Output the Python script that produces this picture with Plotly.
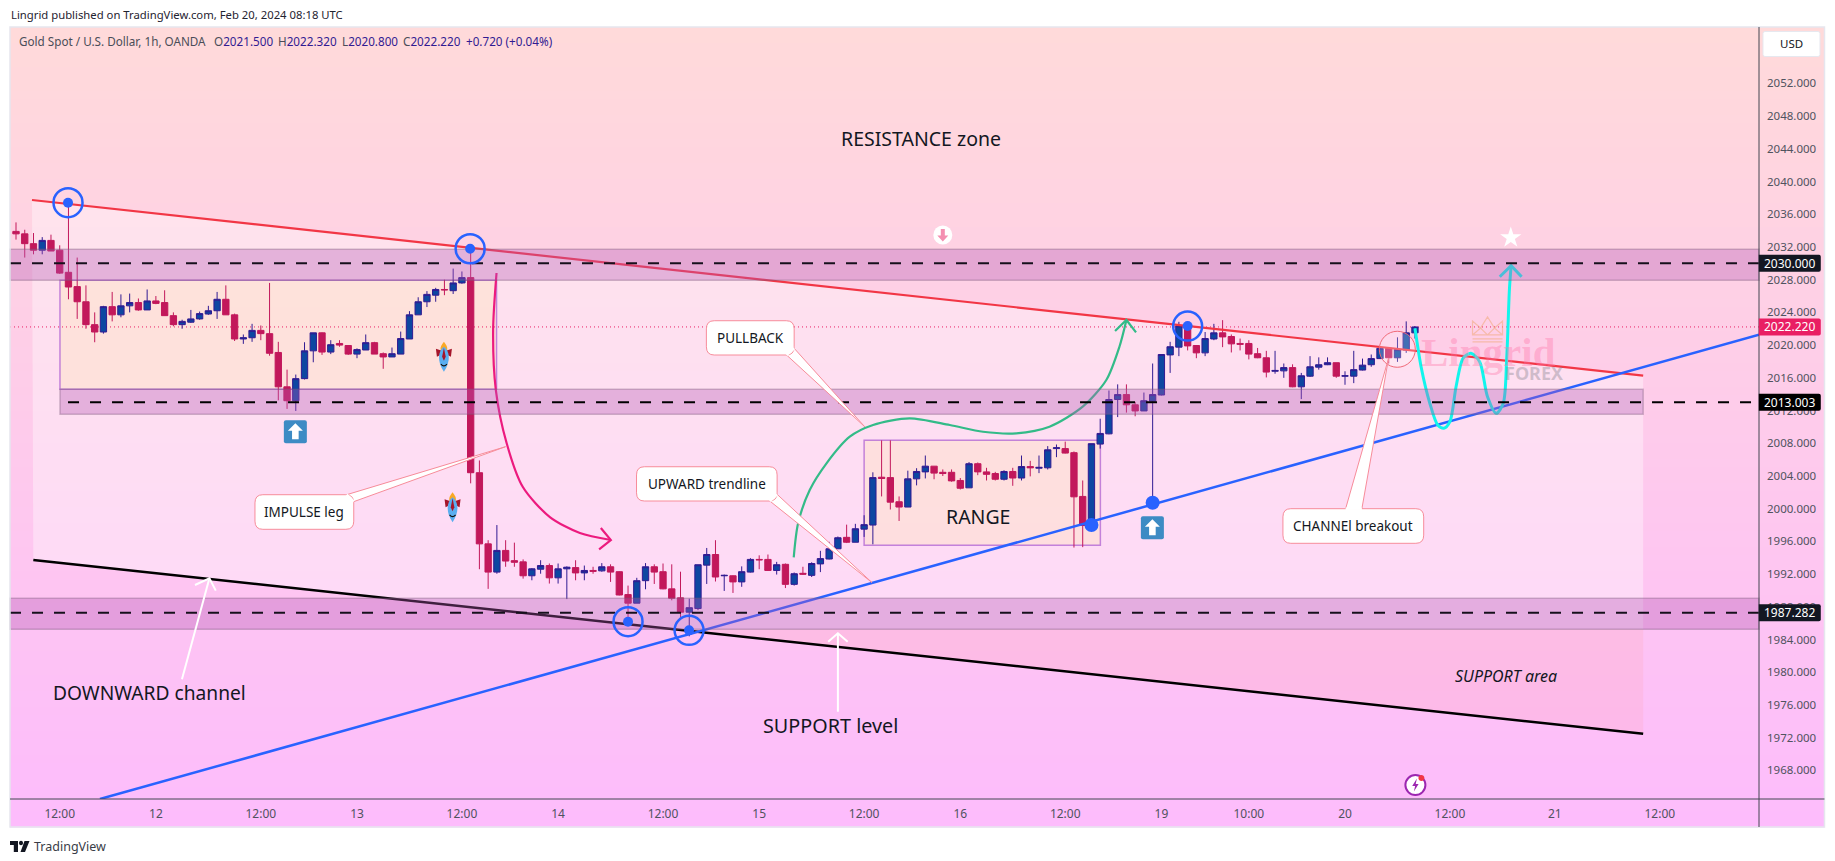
import plotly.graph_objects as go

# ---------- candles: hourly bars (bar number = position on a session-compressed time axis)
opens = [2033.9,2033.6,2032.4,2031.6,2032.8,2031.6,2028.9,2027.15,2025.3,2022.5,
 2021.6,2024.7,2023.7,2024.8,2025.2,2024.3,2025.4,2025.2,2023.6,2022.5,
 2022.8,2023.2,2023.8,2024.2,2025.6,2023.7,2020.75,2020.9,2021.8,2021.4,
 2019.1,2014.9,2013.2,2015.9,2019.3,2021.5,2019.15,2020.2,2019.95,2018.9,
 2019.4,2020.3,2018.95,2018.55,2018.9,2020.75,2023.7,2025.3,2026.1,2026.8,
 2026.65,2027.6,2028.25,2004.4,1995.7,1992.25,1994.9,1993.65,1993.5,1991.8,
 1992.6,1993.05,1991.55,1992.65,1992.8,1992.15,1992.45,1992.4,1992.9,1992.3,
 1989.5,1988.45,1991.2,1992.9,1992.3,1990.2,1989.1,1987.35,1987.8,1993.1,
 1994.4,1991.8,1991.8,1991.05,1992.25,1993.8,1993.8,1992.45,1993.2,1990.75,
 1992.1,1991.85,1993.25,1993.85,1995.1,1996.5,1995.9,1997.5,1998.0,2003.85,
 2003.8,2000.85,2000.2,2003.65,2004.5,2005.2,2004.45,2004.45,2003.45,2002.55,
 2005.5,2004.5,2004.3,2003.6,2004.55,2003.75,2005.15,2004.95,2005.0,2007.35,
 2007.35,2006.85,2001.5,1997.95,2007.9,2009.15,2013.35,2013.95,2012.7,2011.95,
 2013.15,2013.9,2018.8,2019.75,2022.2,2019.95,2019.05,2020.75,2021.5,2021.05,
 2020.2,2020.2,2018.95,2018.45,2016.8,2016.85,2017.25,2014.9,2016.2,2017.3,
 2017.6,2017.85,2016.2,2016.2,2016.95,2017.6,2018.35,2019.6,2018.45,2019.4,2021.5]
highs = [2035.0,2034.1,2033.7,2033.2,2033.5,2032.2,2037.4,2030.7,2027.3,2024.0,
 2024.8,2026.5,2026.2,2026.3,2025.7,2026.8,2026.0,2026.7,2024.0,2023.1,
 2024.3,2024.1,2024.8,2026.5,2027.3,2023.85,2021.3,2022.6,2022.4,2027.6,
 2020.4,2017.0,2016.4,2020.35,2021.5,2021.55,2020.6,2020.6,2019.95,2019.6,
 2021.3,2020.4,2019.1,2019.7,2021.65,2024.15,2025.85,2026.6,2027.0,2028.0,
 2029.35,2029.0,2031.7,2005.9,1996.15,1998.0,1996.15,1995.85,1993.8,1992.75,
 1993.7,1993.3,1993.3,1992.95,1993.7,1993.05,1992.9,1993.35,1993.2,1992.35,
 1990.6,1991.55,1993.35,1993.2,1993.3,1993.2,1992.3,1989.0,1993.15,1995.2,
 1996.15,1991.95,1991.85,1992.95,1993.95,1994.3,1994.4,1993.5,1993.3,1992.2,
 1992.9,1993.45,1994.85,1995.95,1996.6,1998.05,1998.15,1999.2,2004.45,2008.35,
 2008.35,2001.5,2004.65,2004.95,2006.5,2005.2,2004.8,2004.8,2003.75,2005.7,
 2005.65,2005.0,2004.5,2004.7,2005.0,2006.5,2005.85,2006.5,2007.65,2007.85,
 2008.2,2007.0,2003.45,2007.95,2011.0,2014.45,2015.2,2015.2,2013.05,2014.2,
 2017.75,2018.85,2020.4,2022.85,2022.85,2020.0,2021.6,2022.6,2023.05,2021.3,
 2020.8,2020.6,2019.65,2019.3,2019.3,2017.75,2017.65,2016.6,2018.65,2018.5,
 2018.5,2017.85,2016.8,2019.3,2018.35,2018.85,2019.85,2019.6,2020.95,2022.9,2022.32]
lows = [2032.9,2030.7,2031.1,2031.1,2031.5,2028.7,2025.6,2023.2,2022.0,2020.35,
 2021.4,2022.9,2023.4,2024.0,2024.2,2024.3,2025.0,2023.6,2022.3,2022.0,
 2022.7,2023.1,2023.7,2023.2,2023.7,2020.5,2020.15,2020.4,2020.6,2018.7,
 2013.25,2012.2,2011.95,2015.8,2017.9,2018.8,2018.9,2019.8,2018.8,2018.4,
 2019.4,2018.9,2017.1,2018.55,2018.9,2020.75,2023.7,2024.65,2025.3,2026.1,
 2026.25,2027.5,2003.1,1992.6,1990.2,1992.05,1992.9,1992.9,1991.45,1991.25,
 1992.05,1990.85,1990.85,1988.95,1991.25,1991.25,1992.05,1992.3,1991.05,1989.4,
 1986.15,1988.45,1990.15,1990.8,1990.15,1988.8,1986.75,1984.4,1987.6,1990.8,
 1991.1,1989.95,1989.7,1990.45,1992.2,1992.6,1992.4,1991.95,1990.3,1990.6,
 1991.9,1991.65,1992.25,1993.8,1995.1,1995.8,1995.9,1996.55,1995.65,2001.5,
 1999.9,1998.5,2000.2,2002.85,2003.7,2003.6,2004.0,2003.3,2002.35,2002.55,
 2004.1,2003.45,2003.45,2003.45,2002.8,2003.45,2003.95,2004.35,2004.8,2006.3,
 2006.75,1995.25,1995.3,1997.95,2007.35,2009.1,2011.2,2011.75,2011.3,2011.95,
 2001.45,2013.85,2016.6,2018.65,2019.35,2018.4,2018.65,2020.6,2019.75,2019.1,
 2019.35,2018.25,2018.4,2016.05,2016.5,2016.0,2014.85,2013.4,2016.1,2017.0,
 2017.55,2016.0,2015.15,2015.35,2016.9,2017.35,2018.35,2017.75,2017.95,2019.05,2020.8]
closes = [2033.6,2032.4,2031.6,2032.8,2031.5,2028.8,2027.1,2025.3,2022.5,2021.6,
 2024.7,2023.7,2024.8,2025.2,2024.3,2025.4,2025.1,2023.6,2022.5,2022.9,
 2023.2,2023.85,2024.2,2025.6,2023.7,2020.75,2020.9,2021.8,2021.4,2019.0,
 2014.9,2013.2,2015.9,2019.3,2021.5,2019.15,2020.05,2020.0,2018.9,2019.45,
 2020.3,2018.9,2018.55,2018.95,2020.8,2023.7,2025.3,2026.2,2026.8,2026.75,
 2027.6,2028.25,2004.4,1995.7,1992.25,1994.9,1993.6,1993.45,1991.8,1992.65,
 1993.05,1991.55,1992.65,1992.85,1992.15,1992.45,1992.35,1992.9,1992.25,1989.45,
 1988.45,1991.2,1992.9,1992.25,1990.2,1989.05,1987.35,1987.9,1993.15,1994.4,
 1991.65,1991.85,1991.05,1992.3,1993.8,1993.75,1992.45,1993.15,1990.75,1992.05,
 1992.0,1993.3,1993.9,1995.1,1996.45,1995.9,1997.55,1998.05,2003.8,2003.7,
 2000.8,2000.2,2003.65,2004.55,2005.2,2004.35,2004.3,2003.4,2002.5,2005.5,
 2004.5,2004.2,2003.6,2004.55,2003.75,2005.15,2005.0,2005.05,2007.2,2007.45,
 2006.8,2001.45,1997.95,2007.95,2009.2,2013.35,2013.95,2012.7,2011.95,2013.2,
 2013.95,2018.85,2019.8,2022.35,2019.9,2019.05,2020.8,2021.5,2021.0,2020.15,
 2020.1,2018.9,2018.45,2016.7,2016.9,2017.25,2014.9,2016.25,2017.35,2017.6,
 2017.85,2016.2,2016.25,2017.0,2017.55,2018.35,2019.6,2018.45,2019.45,2021.5,2022.22]
bars = list(range(len(opens)))

# ---------- axes
price_ticks = [1968,1972,1976,1980,1984,1988,1992,1996,2000,2004,2008,2012,2016,2020,2024,2028,2032,2036,2040,2044,2048,2052]
price_labels = [f"{v}.000" for v in price_ticks]
time_tick_bars = [5,16,28,39,51,62,74,85,97,108,120,131,141,152,164,176,188]
time_tick_labels = ["12:00","12","12:00","13","12:00","14","12:00","15","12:00","16","12:00","19","10:00","20","12:00","21","12:00"]

# ---------- drawn levels and trend lines (bar number, price)
level_prices = [2030.0, 2013.003, 1987.282]
last_price = 2022.22
red_bars, red_prices = [1.83, 186.1], [2037.74, 2016.26]
black_bars, black_prices = [1.98, 186.1], [1993.73, 1972.48]
blue_bars, blue_prices = [9.6, 199.35], [1964.51, 2021.26]

green_bars = [88.95,89.45,90.78,92.7,95.36,98.02,102.2,106.8,110.6,114.4,118.2,122.0,124.7,126.2,127.0]
green_prices = [1994.06,1998.22,2002.29,2005.55,2008.8,2010.23,2011.05,2010.23,2009.41,2009.22,2010.02,2012.47,2015.73,2019.8,2023.07]
green_head_bars, green_head_prices = [125.7,127.0,128.1], [2021.72,2023.07,2021.56]
pink_bars = [54.96,54.57,54.88,56.11,57.97,61.06,64.49,68.03]
pink_prices = [2028.81,2021.85,2014.51,2008.03,2002.65,1998.98,1997.03,1996.17]
pink_head_bars, pink_head_prices = [66.89,68.03,66.69], [1997.64,1996.17,1995.04]
cyan_bars = [160.0,160.7,161.7,162.6,163.3,164.0,164.7,165.5,166.4,167.4,168.3,169.3,170.1,170.5,170.8,171.0]
cyan_prices = [2022.05,2017.36,2012.89,2010.23,2009.83,2010.64,2014.91,2018.39,2019.0,2017.97,2013.69,2011.66,2012.89,2018.58,2026.74,2029.71]
cyan_head_bars, cyan_head_prices = [169.7,171.0,172.2], [2028.36,2029.71,2028.36]

ring_bars, ring_prices = [5.95,51.94,70.0,76.98,134.0], [2037.41,2031.78,1986.19,1985.13,2022.33]
dot_bars, dot_prices = [123.0,130.0], [1998.01,2000.73]
up_icon_bars, up_icon_prices = [31.95,129.97], [2009.41,1997.68]
rocket_bars, rocket_prices = [48.94,49.93], [2018.58,2000.17]

# ---------- page layout in pixels
W, H = 1835, 861
L, R, T, B = 10, 1759.5, 27, 799
XR = [(L-16)/8.746, (R-16)/8.746]
YR = [2030-(B-263.3)/8.18, 2030+(263.3-T)/8.18]
def PX(x): return (x-L)/(R-L)
def PY(y): return (B-y)/(B-T)

FONT = "Noto Sans"
NOLINE = dict(width=0)
shapes, ann = [], []

# gradient backdrop of the chart box
c0, c1 = (255,218,218), (253,188,252)
top, bot, n = 27, 827, 100
for k in range(n):
    t = k/(n-1)
    col = "rgb(%d,%d,%d)" % tuple(round(a+(b-a)*t) for a,b in zip(c0,c1))
    y0 = top+(bot-top)*k/n
    y1 = top+(bot-top)*(k+1)/n+0.6
    shapes.append(dict(type="rect", xref="paper", yref="paper", x0=PX(10), x1=PX(1825), y0=PY(y0), y1=PY(y1),
                       line=NOLINE, fillcolor=col, layer="below"))

def poly(xs, ys, **kw):
    p = "M " + " L ".join(f"{x} {y}" for x,y in zip(xs,ys)) + " Z"
    d = dict(type="path", xref="x", yref="y", path=p, layer="above", line=NOLINE)
    d.update(kw)
    return d

def pxpath(path, xa, ya, xref="x", yref="y", **kw):
    d = dict(type="path", path=path, xsizemode="pixel", ysizemode="pixel", xanchor=xa, yanchor=ya,
             xref=xref, yref=yref, layer="above", line=NOLINE)
    d.update(kw)
    return d

def pxcircle(xa, ya, r, **kw):
    d = dict(type="circle", xsizemode="pixel", ysizemode="pixel", xanchor=xa, yanchor=ya,
             x0=-r, x1=r, y0=-r, y1=r, xref="x", yref="y", layer="above", line=NOLINE)
    d.update(kw)
    return d

def rounded(x0,x1,y0,y1,rx=0.9,ry=1.0):
    return (f"M {x0+rx} {y1} L {x1-rx} {y1} Q {x1} {y1} {x1} {y1-ry} L {x1} {y0+ry} Q {x1} {y0} {x1-rx} {y0} "
            f"L {x0+rx} {y0} Q {x0} {y0} {x0} {y0+ry} L {x0} {y1-ry} Q {x0} {y1} {x0+rx} {y1} Z")

# channel tint (between red and black lines) and support wedge
shapes.append(poly([1.83,186.1,186.1,75.42,1.98],[2037.74,2016.26,1985.26,1985.26,1993.73],
                   fillcolor="rgba(255,255,255,0.37)", layer="below"))
shapes.append(poly([75.42,186.1,186.1],[1985.26,1985.26,1972.48], fillcolor="rgba(255,150,150,0.15)", layer="below"))

# range boxes
BOXLINE = dict(color="rgba(170,90,210,0.7)", width=1.5)
shapes.append(dict(type="rect", xref="x", yref="y", x0=5.03, x1=54.96, y0=2014.6, y1=2027.92,
                   fillcolor="rgba(255,228,190,0.4)", line=BOXLINE, layer="below"))
shapes.append(dict(type="rect", xref="x", yref="y", x0=97.0, x1=124.02, y0=1995.53, y1=2008.36,
                   fillcolor="rgba(255,228,190,0.4)", line=BOXLINE, layer="below"))

# level bands
BAND = "rgba(180,90,180,0.35)"
BANDL = dict(color="rgba(120,90,120,0.35)", width=1.5)
shapes.append(dict(type="rect", xref="paper", yref="y", x0=0, x1=1, y0=2027.92, y1=2030+(263.3-249.3)/8.18, fillcolor=BAND, line=BANDL, layer="above"))
shapes.append(dict(type="rect", xref="x", yref="y", x0=5.03, x1=186.1, y0=2030-(414.3-263.3)/8.18, y1=2014.6, fillcolor=BAND, line=BANDL, layer="above"))
shapes.append(dict(type="rect", xref="paper", yref="y", x0=0, x1=1, y0=1985.26, y1=2030-(598.3-263.3)/8.18, fillcolor=BAND, line=BANDL, layer="above"))

# dashed levels
DASH = "11px,11px"
shapes.append(dict(type="line", xref="x", yref="y", x0=XR[0], x1=XR[1], y0=level_prices[0], y1=level_prices[0], line=dict(color="#16101c", width=2, dash=DASH), layer="above"))
shapes.append(dict(type="line", xref="x", yref="y", x0=5.95, x1=XR[1], y0=level_prices[1], y1=level_prices[1], line=dict(color="#000000", width=2, dash=DASH), layer="above"))
shapes.append(dict(type="line", xref="x", yref="y", x0=XR[0], x1=XR[1], y0=level_prices[2], y1=level_prices[2], line=dict(color="#16101c", width=2, dash=DASH), layer="above"))
shapes.append(dict(type="line", xref="x", yref="y", x0=XR[0], x1=XR[1], y0=last_price, y1=last_price, line=dict(color="#e91e63", width=1, dash="1px,3px"), layer="below"))

# rings and dots
BLUE = "#2962ff"
for b,p in zip(ring_bars, ring_prices):
    shapes.append(pxcircle(b,p,14.5, line=dict(color=BLUE,width=2.5)))
    shapes.append(pxcircle(b,p,5, fillcolor=BLUE))
for b,p in zip(dot_bars, dot_prices):
    shapes.append(pxcircle(b,p,7, fillcolor=BLUE))
shapes.append(pxcircle(157.98,2019.49,18, line=dict(color="#f06a78",width=1), fillcolor="rgba(255,255,255,0.22)"))

# call-outs
CALL = dict(color="#f78c9a", width=1)
def callout(x0,x1,y0,y1,ax,ay,bx,by,tx,ty,text,cx,cy):
    shapes.append(poly([ax,tx,bx],[ay,ty,by], fillcolor="#ffffff", line=CALL))
    shapes.append(dict(type="path", xref="x", yref="y", layer="above", path=rounded(x0,x1,y0,y1), fillcolor="#ffffff", line=CALL))
    shapes.append(dict(type="line", xref="x", yref="y", x0=ax, x1=bx, y0=ay, y1=by, layer="above", line=dict(color="#ffffff", width=2.5)))
    ann.append(dict(x=cx, y=cy, xref="x", yref="y", text=text, showarrow=False, xanchor="center", font=dict(family=FONT,size=13.5,color="#131722")))
callout(27.33,38.63,1997.48,2001.71, 37.82,2001.71, 38.63,2000.86, 55.99,2007.58, "IMPULSE leg", 32.98,1999.6)
callout(78.96,89.0,2018.79,2022.98, 88.13,2018.79, 89.0,2019.61, 97.07,2010.02, "PULLBACK", 83.98,2020.87)
callout(70.97,87.05,2000.94,2005.13, 86.21,2000.94, 87.05,2001.76, 97.91,1990.96, "UPWARD trendline", 79.0,2003.02)
callout(144.9,161.0,1995.77,2000.0, 152.07,2000.0, 153.93,2000.0, 156.99,2018.42, "CHANNEl breakout", 152.96,1997.88)

# white arrows
WL = dict(color="#ffffff", width=2)
def openpath(xs,ys,**kw):
    return dict(type="path", xref="x", yref="y", layer="above", path="M "+" L ".join(f"{x} {y}" for x,y in zip(xs,ys)), line=WL, **kw)
shapes.append(openpath([18.98,22.12],[1979.14,1991.49]))
shapes.append(openpath([20.47,22.12,22.85],[1990.67,1991.49,1989.98]))
shapes.append(openpath([94.0,94.0],[1975.18,1984.77]))
shapes.append(openpath([92.89,94.0,95.12],[1983.74,1984.77,1983.74]))

# icons
SQ = "M -9.5 11.5 L 9.5 11.5 Q 11.5 11.5 11.5 9.5 L 11.5 -9.5 Q 11.5 -11.5 9.5 -11.5 L -9.5 -11.5 Q -11.5 -11.5 -11.5 -9.5 L -11.5 9.5 Q -11.5 11.5 -9.5 11.5 Z"
for b,p in zip(up_icon_bars, up_icon_prices):
    shapes.append(pxpath(SQ,b,p,fillcolor="#3d8bc4"))
    shapes.append(pxpath("M 0 8.5 L 7.5 1 L 3.3 1 L 3.3 -7.5 L -3.3 -7.5 L -3.3 1 L -7.5 1 Z",b,p,fillcolor="#ffffff"))
shapes.append(pxcircle(106,2033.46,9.5, fillcolor="#ffffff"))
shapes.append(pxpath("M 0 -6.5 L 5.5 -0.5 L 2 -0.5 L 2 6 L -2 6 L -2 -0.5 L -5.5 -0.5 Z",106,2033.46,fillcolor="#f48fb1"))
for b,p in zip(rocket_bars, rocket_prices):
    shapes.append(pxpath("M 0 15 C -5 9 -4 5 0 5 C 4 5 5 9 0 15 Z",b,p,fillcolor="#f9a825"))
    shapes.append(pxpath("M -2 6 L -8 8 L -7 0 L -3 2 Z M 2 6 L 8 8 L 7 0 L 3 2 Z",b,p,fillcolor="#a5152b"))
    shapes.append(pxpath("M 0 10 C 6 6 7 -5 0 -15 C -7 -5 -6 6 0 10 Z",b,p,fillcolor="#5aaef0"))
    shapes.append(pxpath("M 0 9 L 1.8 0 L 0 -4 L -1.8 0 Z",b,p,fillcolor="#a5152b"))
    shapes.append(pxpath("M -3 -7.5 Q 0 -11 3 -7.5",b,p,line=dict(color="#111111",width=1.2)))
shapes.append(pxcircle(160.05,1966.22,10, fillcolor="#ffffff", line=dict(color="#9c27b0",width=2)))
shapes.append(pxpath("M 1.5 6.5 L -3.2 -1 L -0.3 -1 L -1.5 -6.5 L 3.2 1 L 0.3 1 Z",160.05,1966.22,fillcolor="#9c27b0"))
shapes.append(pxpath("M 3 7 C 3 11 9 11 9 7 C 9 3 3 3 3 7 Z",160.05,1966.22,fillcolor="#f23645"))

# watermark crown and star
CROWN = dict(color="rgba(240,165,110,0.5)", width=1.2)
shapes.append(pxpath("M -15 -5 L -15 9 L -7 2 L 0 13 L 7 2 L 15 9 L 15 -5 Z M -15 -9 L 15 -9 M -15 -12 L 15 -12 M -15 -5 L -7 2 L 0 -5 L 7 2 L 15 -5",168.3,2021.85,line=CROWN))
star_bar, star_price = [170.96], [2033.13]

# chart-box furniture
shapes.append(dict(type="rect", xref="paper", yref="paper", x0=PX(10), x1=PX(1825), y0=PY(827), y1=PY(27), line=dict(color="#e6e6ee",width=1.5), layer="above"))
shapes.append(dict(type="line", xref="paper", yref="paper", x0=1, x1=1, y0=PY(827), y1=1, line=dict(color="#434651",width=1), layer="above"))
shapes.append(dict(type="line", xref="paper", yref="paper", x0=PX(10), x1=PX(1825), y0=0, y1=0, line=dict(color="#434651",width=1), layer="above"))
USD = "M -26.5 12.5 L 26.5 12.5 Q 28.5 12.5 28.5 10.5 L 28.5 -10.5 Q 28.5 -12.5 26.5 -12.5 L -26.5 -12.5 Q -28.5 -12.5 -28.5 -10.5 L -28.5 10.5 Q -28.5 12.5 -26.5 12.5 Z"
shapes.append(pxpath(USD, PX(1792), PY(44), xref="paper", yref="paper", fillcolor="#ffffff", line=dict(color="#e6e8ef",width=1)))
# TradingView logo
shapes.append(pxpath("M 0 11 L 8 11 L 8 0 L 3.8 0 L 3.8 7 L 0 7 Z M 14.5 11 L 19.5 11 L 15 0 L 10.5 0 Z M 9 9 C 9 12 13 12 13 9 C 13 6 9 6 9 9 Z",
                     PX(10), PY(852), xref="paper", yref="paper", fillcolor="#131722"))

# ---------- text
def label(x,y,text,size,color="#131722",anchor="center",family=FONT,italic=False):
    ann.append(dict(x=x,y=y,xref="x",yref="y",text=(f"<i>{text}</i>" if italic else text),showarrow=False,xanchor=anchor,
                    font=dict(family=family,size=size,color=color)))
label(103.5,2045.2,"RESISTANCE zone",19.5)
label(110,1999.0,"RANGE",19.5)
label(15.3,1977.5,"DOWNWARD channel",19.2)
label(93.1,1973.5,"SUPPORT level",19.8)
label(170.4,1979.55,"SUPPORT area",16,italic=True)
ann.append(dict(x=168.4,y=2019.19,xref="x",yref="y",xanchor="center",text="<b>Lingrid</b>",showarrow=False,font=dict(family="Liberation Serif",size=41,color="rgba(255,120,170,0.38)")))
ann.append(dict(x=173.6,y=2016.59,xref="x",yref="y",xanchor="center",text="<b>FOREX</b>",showarrow=False,font=dict(family="Noto Sans",size=18,color="rgba(120,120,130,0.35)")))

PB = "M -28.5 8.5 L 29 8.5 Q 31 8.5 31 6.5 L 31 -6.5 Q 31 -8.5 29 -8.5 L -31 -8.5 L -31 8.5 Z"
def pricebox(p,text,col):
    shapes.append(pxpath(PB, PX(1790.3), p, xref="paper", yref="y", fillcolor=col))
    ann.append(dict(x=PX(1790.3),y=p,xref="paper",yref="y",text=text,showarrow=False,xanchor="center",yanchor="middle",
                    font=dict(family=FONT,size=12,color="#ffffff")))
pricebox(2030.0,"2030.000","#131722")
pricebox(last_price,"2022.220","#e91e63")
pricebox(2013.003,"2013.003","#000000")
pricebox(1987.282,"1987.282","#131722")

def chrome(x,y,text,size=11.5,color="#131722"):
    ann.append(dict(x=PX(x),y=PY(y),xref="paper",yref="paper",text=text,showarrow=False,xanchor="left",yanchor="middle",
                    font=dict(family=FONT,size=size,color=color)))
chrome(9,15,"Lingrid published on TradingView.com, Feb 20, 2024 08:18 UTC",11.3,"#1f2330")
V = "#311b92"
GR = "#4a4d58"
def v(s): return f'<span style="color:{V}">{s}</span>'
chrome(17,41.5,"Gold Spot / U.S. Dollar, 1h, OANDA",11.7,GR)
chrome(212,41.5,"O"+v("2021.500"),11.7,GR)
chrome(276,41.5,"H"+v("2022.320"),11.7,GR)
chrome(340,41.5,"L"+v("2020.800"),11.7,GR)
chrome(401.5,41.5,"C"+v("2022.220"),11.7,GR)
chrome(464.5,41.5,v("+0.720 (+0.04%)"),11.7,GR)
chrome(32,846,"TradingView",12.5,"#3a3d47")
ann.append(dict(x=PX(1792),y=PY(44),xref="paper",yref="paper",xanchor="center",yanchor="middle",text="USD",showarrow=False,font=dict(family=FONT,size=11.5,color="#131722")))

# ---------- traces
fig = go.Figure()
fig.add_trace(go.Candlestick(x=bars, open=opens, high=highs, low=lows, close=closes, whiskerwidth=0,
    increasing=dict(fillcolor="#0d47a1", line=dict(color="#311b92", width=1)),
    decreasing=dict(fillcolor="#c2185b", line=dict(color="#c2185b", width=1)),
    hoverinfo="skip", showlegend=False))
def line(xs,ys,color,width,spline=False):
    fig.add_trace(go.Scatter(x=xs,y=ys,mode="lines",line=dict(color=color,width=width,shape="spline" if spline else "linear",smoothing=0.8),
                             hoverinfo="skip",showlegend=False))
line(black_bars,black_prices,"#000000",2.5)
line(red_bars,red_prices,"#f23645",2.2)
line(blue_bars,blue_prices,BLUE,2.5)
line(green_bars,green_prices,"#33bb88",2.2,True)
line(green_head_bars,green_head_prices,"#33bb88",2.2)
line(pink_bars,pink_prices,"#ec1a7e",2.2,True)
line(pink_head_bars,pink_head_prices,"#ec1a7e",2.2)
line(cyan_bars,cyan_prices,"#12f5ec",3,True)
line(cyan_head_bars,cyan_head_prices,"#12f5ec",3)
fig.add_trace(go.Scatter(x=star_bar,y=star_price,mode="markers",marker=dict(symbol="star",size=16,color="#ffffff"),hoverinfo="skip",showlegend=False))

fig.update_layout(
    width=W, height=H, autosize=False,
    margin=dict(l=L, r=W-R, t=T, b=H-B, pad=0),
    paper_bgcolor="#ffffff", plot_bgcolor="rgba(0,0,0,0)",
    boxgap=0.15, boxgroupgap=0.15,
    shapes=shapes, annotations=ann, showlegend=False, dragmode=False,
    xaxis=dict(range=XR, rangeslider=dict(visible=False), tickmode="array", tickvals=time_tick_bars, ticktext=time_tick_labels,
               showgrid=False, zeroline=False, showline=False, ticks="", ticklabelstandoff=6,
               tickfont=dict(family=FONT,size=12,color="#50535e")),
    yaxis=dict(range=YR, side="right", tickmode="array", tickvals=price_ticks, ticktext=price_labels,
               showgrid=False, zeroline=False, showline=False, ticks="", ticklabelstandoff=7,
               tickfont=dict(family=FONT,size=11.5,color="#50535e")),
)
fig.write_html("out.html", config=dict(displayModeBar=False), post_script="document.body.style.margin='0';")
